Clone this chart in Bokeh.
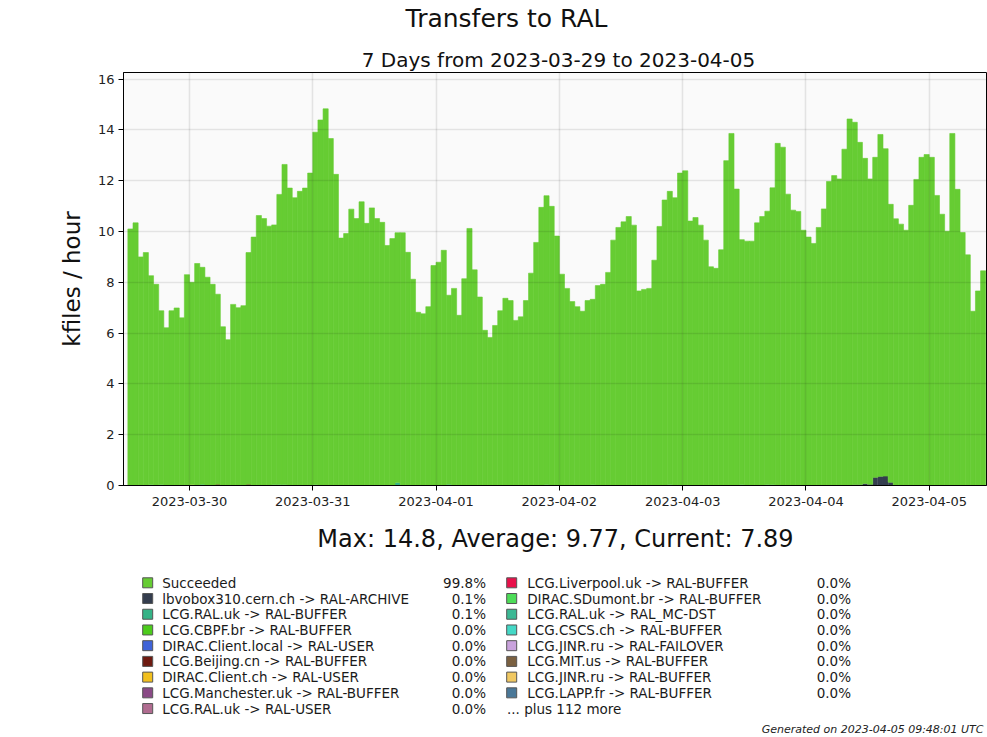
import numpy as np
import pandas as pd
from bokeh.plotting import figure
from bokeh.layouts import column
from bokeh.models import Range1d, FixedTicker, DatetimeTickFormatter
from bokeh.core.properties import value
from bokeh.embed import file_html
from bokeh.resources import INLINE

# ---------------- data ----------------
title = "Transfers to RAL"
subtitle = "7 Days from 2023-03-29 to 2023-04-05"
summary = "Max: 14.8, Average: 9.77, Current: 7.89"
generated = "Generated on 2023-04-05 09:48:01 UTC"
y_label = "kfiles / hour"

first_hour = "2023-03-29 12:00"
range_start = "2023-03-29 11:09"
range_end = "2023-04-05 11:09"
tick_days = ["2023-03-30", "2023-03-31", "2023-04-01", "2023-04-02",
             "2023-04-03", "2023-04-04", "2023-04-05"]
y_ticks = [0, 2, 4, 6, 8, 10, 12, 14, 16]

# hourly totals (kfiles / hour)
total_kfiles = [
    10.10, 10.34, 9.00, 9.17, 8.26, 7.92, 6.88, 6.21, 6.88, 6.99, 6.60, 8.30, 8.00, 8.74,
    8.59, 8.20, 7.92, 7.53, 6.25, 5.74, 7.13, 7.00, 7.08, 9.17, 9.78, 10.63, 10.51,
    10.21, 10.26, 11.46, 12.64, 11.71, 11.33, 11.58, 11.71, 12.30, 13.91, 14.39, 14.83, 13.66,
    12.25, 9.74, 9.92, 10.88, 10.51, 11.17, 10.32, 10.93, 10.51, 10.36, 9.45, 9.72, 9.95,
    9.95, 9.18,
    8.12, 6.82, 6.76, 7.04, 8.66, 8.79, 9.26, 7.49, 7.76, 6.70, 8.14, 10.12, 8.49, 7.42,
    6.11, 5.83, 6.30, 6.88, 7.37, 7.28, 6.50, 6.64, 7.28, 8.36, 9.57, 10.95, 11.41, 10.99,
    9.82, 8.32, 7.76, 7.24, 7.04, 6.86, 7.28, 7.33, 7.87, 7.92, 8.39, 9.66, 10.16, 10.38,
    10.59, 10.25, 7.66, 7.72, 7.76, 8.87, 10.20, 11.24, 11.58, 11.33, 12.30, 12.39, 10.41, 10.55,
    10.25, 9.66, 8.61, 8.55, 9.28, 12.79, 13.86, 11.67, 9.68, 9.62, 9.62, 10.34, 10.59, 10.80,
    11.72, 13.47, 13.32, 11.47, 10.84, 10.79, 10.05, 9.78, 9.53, 10.16, 10.89, 11.97, 12.20, 12.07,
    13.24, 14.43, 14.30, 13.51, 12.88, 12.07, 12.92, 13.82, 13.26, 11.07, 10.50, 10.29, 10.05,
    11.03, 12.05, 12.92, 13.03, 12.92, 11.42, 10.68, 10.01, 13.86, 11.66, 9.96, 9.08, 6.86,
    7.66, 8.45,
]

# small channels (hour index -> kfiles / hour)
archive_kfiles = {141: 0.04, 142: 0.04, 143: 0.08, 144: 0.05,
                  145: 0.32, 146: 0.36, 147: 0.37, 148: 0.13}
ral_buffer_kfiles = {4: 0.04, 6: 0.04, 14: 0.05, 28: 0.04, 29: 0.04, 30: 0.04, 36: 0.04,
                     52: 0.12, 62: 0.05, 81: 0.04, 90: 0.04, 105: 0.04, 119: 0.04,
                     124: 0.04, 125: 0.04}
beijing_kfiles = {17: 0.05, 23: 0.05}
client_ch_kfiles = {12: 0.04}

legend_left_names = ["Succeeded", "lbvobox310.cern.ch -> RAL-ARCHIVE",
                     "LCG.RAL.uk -> RAL-BUFFER", "LCG.CBPF.br -> RAL-BUFFER",
                     "DIRAC.Client.local -> RAL-USER", "LCG.Beijing.cn -> RAL-BUFFER",
                     "DIRAC.Client.ch -> RAL-USER", "LCG.Manchester.uk -> RAL-BUFFER",
                     "LCG.RAL.uk -> RAL-USER"]
legend_left_pct = ["99.8%", "0.1%", "0.1%", "0.0%", "0.0%", "0.0%", "0.0%", "0.0%", "0.0%"]
legend_left_colors = ["#66cc33", "#343d4e", "#35b386", "#4ccc1c", "#3f63d8", "#6e1a10",
                      "#f2c01e", "#8a4a86", "#b06c90"]

legend_right_names = ["LCG.Liverpool.uk -> RAL-BUFFER", "DIRAC.SDumont.br -> RAL-BUFFER",
                      "LCG.RAL.uk -> RAL_MC-DST", "LCG.CSCS.ch -> RAL-BUFFER",
                      "LCG.JINR.ru -> RAL-FAILOVER", "LCG.MIT.us -> RAL-BUFFER",
                      "LCG.JINR.ru -> RAL-BUFFER", "LCG.LAPP.fr -> RAL-BUFFER"]
legend_right_pct = ["0.0%"] * 8
legend_right_colors = ["#e8104a", "#4ddc58", "#3cb894", "#44d8c6", "#c9a2dc", "#7a6040",
                       "#f0c862", "#4a7898"]
more_text = "... plus 112 more"

# ---------------- layout constants ----------------
FONT = "DejaVu Sans"
GREEN = "#66cc33"
W = 987
LEFT, RIGHT = 123, 1          # frame borders shared by all three panels
H_HEAD, H_MAIN, H_LEG = 71, 444, 222

n = len(total_kfiles)
hours = pd.date_range(first_hour, periods=n, freq="h")
centers = hours + pd.Timedelta(minutes=30)
bar_w = 3600 * 1000


def series(d):
    a = np.zeros(n)
    for k, v in d.items():
        a[k] = v
    return a


def panel(height):
    f = figure(width=W, height=height, x_range=Range1d(LEFT, W - RIGHT),
               y_range=Range1d(height, 0), output_backend="svg", toolbar_location=None,
               min_border_left=LEFT, min_border_right=RIGHT, min_border_top=0,
               min_border_bottom=0, x_axis_location=None, y_axis_location=None)
    f.grid.visible = False
    f.outline_line_color = None
    f.background_fill_color = "white"
    f.border_fill_color = "white"
    return f


# ---------------- header ----------------
h = panel(H_HEAD)
h.text(x=[506], y=[18], text=[title], text_font=value(FONT), text_font_size="25px",
       text_align="center", text_baseline="middle", text_color="#111111")
h.text(x=[558], y=[59.5], text=[subtitle], text_font=value(FONT), text_font_size="20px",
       text_align="center", text_baseline="middle", text_color="#111111")

# ---------------- main chart ----------------
small = [(series(archive_kfiles), legend_left_colors[1]),
         (series(ral_buffer_kfiles), legend_left_colors[2]),
         (series(beijing_kfiles), legend_left_colors[5]),
         (series(client_ch_kfiles), legend_left_colors[6])]

p = figure(width=W, height=H_MAIN, x_axis_type="datetime",
           x_range=Range1d(pd.Timestamp(range_start), pd.Timestamp(range_end)),
           y_range=Range1d(0, 16.26),
           output_backend="svg", toolbar_location=None,
           min_border_left=LEFT, min_border_right=RIGHT, min_border_top=1,
           min_border_bottom=30)
p.background_fill_color = "#fafafa"
p.border_fill_color = "white"
p.outline_line_color = "black"
p.outline_line_width = 1

bottom = np.zeros(n)
for vals, col in small:
    m = vals > 0
    p.vbar(x=centers[m], width=bar_w, bottom=bottom[m], top=(bottom + vals)[m],
           fill_color=col, line_color=None)
    bottom = bottom + vals
tot = np.array(total_kfiles)
p.vbar(x=centers, width=bar_w, bottom=bottom, top=tot,
       fill_color=GREEN, line_color=GREEN, line_width=0.6)

xt = FixedTicker(ticks=[pd.Timestamp(d).value // 10**6 for d in tick_days])
yt = FixedTicker(ticks=y_ticks)
p.xaxis.ticker = xt
p.yaxis.ticker = yt
p.xgrid.ticker = xt
p.ygrid.ticker = yt
fmt = "%Y-%m-%d"
p.xaxis.formatter = DatetimeTickFormatter(days=fmt, months=fmt, years=fmt,
                                          hours=fmt, hourmin=fmt)
for ax in (p.xaxis, p.yaxis):
    ax.major_tick_out = 5
    ax.major_tick_in = 0
    ax.minor_tick_out = 0
    ax.minor_tick_in = 0
    ax.axis_line_color = "black"
    ax.major_tick_line_color = "black"
    ax.major_label_text_font = FONT
    ax.major_label_text_font_size = "13px"
    ax.major_label_text_color = "#222222"
p.xaxis.major_label_standoff = 6
p.yaxis.major_label_standoff = 4
p.yaxis.axis_label = y_label
p.yaxis.axis_label_text_font = FONT
p.yaxis.axis_label_text_font_size = "23px"
p.yaxis.axis_label_text_font_style = "normal"
p.yaxis.axis_label_text_color = "#111111"
p.yaxis.axis_label_standoff = 10
p.grid.grid_line_color = "black"
p.grid.grid_line_alpha = 0.09
p.grid.grid_line_width = 1.6
p.grid.level = "overlay"

# ---------------- legend panel ----------------
q = panel(H_LEG)
q.text(x=[555], y=[23], text=[summary], text_font=value(FONT), text_font_size="24px",
       text_align="center", text_baseline="middle", text_color="#111111")

row0, drow = 67.3, 15.72


def legend_col(names, pcts, colors, sq_x, txt_x, pct_x):
    ys = [row0 + drow * i for i in range(len(names))]
    q.rect(x=[sq_x] * len(names), y=ys, width=10, height=10, width_units="screen",
           height_units="screen", fill_color=colors, line_color="#555555", line_width=1)
    q.text(x=[txt_x] * len(names), y=ys, text=names, text_font=value(FONT),
           text_font_size="13.5px", text_baseline="middle", text_align="left",
           text_color="#1a1a1a")
    q.text(x=[pct_x] * len(names), y=ys, text=pcts, text_font=value(FONT),
           text_font_size="13.5px", text_baseline="middle", text_align="right",
           text_color="#1a1a1a")


legend_col(legend_left_names, legend_left_pct, legend_left_colors, 147.2, 161.7, 485.5)
legend_col(legend_right_names, legend_right_pct, legend_right_colors, 511.2, 526.7, 850.5)
q.text(x=[506.5], y=[row0 + drow * len(legend_right_names)], text=[more_text],
       text_font=value(FONT), text_font_size="13.5px", text_baseline="middle",
       text_align="left", text_color="#1a1a1a")
q.text(x=[983], y=[214], text=[generated], text_font=value(FONT), text_font_size="11px",
       text_font_style="italic", text_baseline="middle", text_align="right",
       text_color="#222222")

layout = column(h, p, q, spacing=0)
open("out.html", "w").write(file_html(layout, INLINE))
